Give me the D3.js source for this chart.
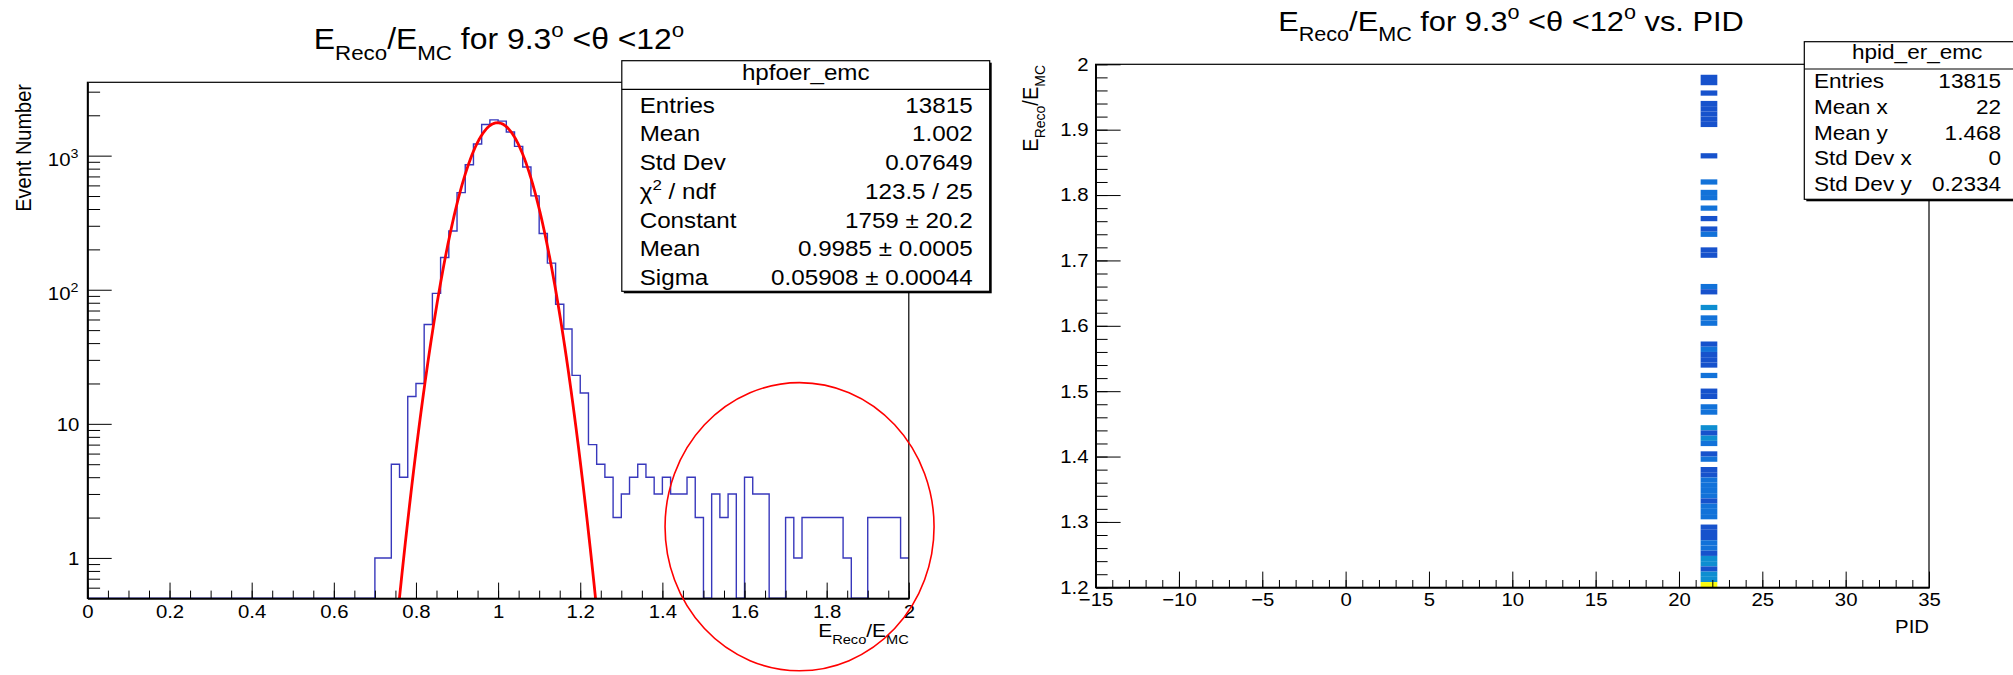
<!DOCTYPE html>
<html><head><meta charset="utf-8">
<script src="https://cdn.jsdelivr.net/npm/d3@7/dist/d3.min.js"></script>
<style>
html,body{margin:0;padding:0;background:#fff;}
svg{display:block;}
text{white-space:pre;}
</style></head><body>
<svg id="chart" width="2013" height="675"></svg>
<script>
// ================= DATA =================
// Left: 1D histogram E_Reco/E_MC (bin width 0.02), lower bin edges and counts
const ratioBinLow = [0.70,0.72,0.74,0.76,0.78,0.80,0.82,0.84,0.86,0.88,0.90,0.92,0.94,0.96,0.98,
  1.00,1.02,1.04,1.06,1.08,1.10,1.12,1.14,1.16,1.18,1.20,1.22,1.24,1.26,1.28,1.30,1.32,1.34,1.36,1.38,
  1.40,1.42,1.44,1.46,1.48,1.50,1.52,1.54,1.56,1.58,1.60,1.62,1.64,1.66,1.68,1.70,1.72,1.74,1.76,1.78,
  1.80,1.82,1.84,1.86,1.88,1.90,1.92,1.94,1.96,1.98];
const ratioCounts = [1,1,5,4,16,20,55,94,174,274,530,855,1222,1706,1850,
  1808,1503,1173,822,501,263,158,78,51,23,17,7,5,4,2,3,4,5,4,3,
  4,3,3,4,2,0,3,2,3,0,4,3,3,0,0,2,1,2,2,2,
  2,2,1,0,0,2,2,2,2,1];
const ratioBinWidth = 0.02;
const ratioXTicks = [0,0.2,0.4,0.6,0.8,1,1.2,1.4,1.6,1.8,2];
const logYTicks = [1,10,100,1000];
const logYLabels = [["1"],["10"],["10",["2",2]],["10",["3",2]]];
// Gaussian fit parameters (from stats box)
const fitConstant = 1759, fitMean = 0.9985, fitSigma = 0.05908;
const leftStatsTitle = "hpfoer_emc";
const leftStatsLabels = [["Entries"],["Mean"],["Std Dev"],["χ",["2",2]," / ndf"],["Constant"],["Mean"],["Sigma"]];
const leftStatsValues = ["13815","1.002","0.07649","123.5 / 25","1759 ± 20.2","0.9985 ± 0.0005","0.05908 ± 0.00044"];
// annotation ellipse in data units
const markCenter = [1.734, 1.71], markHalfWidth = 0.3275, markTopValue = 20.3;

// Right: 2D histogram E_Reco/E_MC vs PID
const pidBinEdges = [21.3, 22.3];
const cellHeight = 0.008;
const cellRatioLow = [1.976,1.968,1.952,1.936,1.928,1.920,1.912,1.904,1.856,1.816,1.800,1.792,1.776,1.760,
  1.744,1.736,1.712,1.704,1.656,1.648,1.624,1.608,1.600,1.568,1.560,1.552,1.544,1.536,1.520,1.496,1.488,
  1.472,1.464,1.440,1.432,1.424,1.416,1.400,1.392,1.376,1.368,1.360,1.352,1.344,1.336,1.328,1.320,1.312,
  1.304,1.288,1.280,1.272,1.264,1.256,1.248,1.240,1.232,1.224,1.216,1.208,1.200];
const cellCounts = [1,1,1,1,1,1,1,1,1,2,2,2,2,1,
  1,2,1,1,2,1,3,2,2,1,2,1,1,1,2,1,1,
  2,2,3,1,3,2,1,2,1,1,2,2,2,2,1,2,2,
  2,1,1,1,2,2,1,3,3,1,3,3,10];
const pidXTicks = [-15,-10,-5,0,5,10,15,20,25,30,35];
const pidYTicks = [1.2,1.3,1.4,1.5,1.6,1.7,1.8,1.9,2];
const rightStatsTitle = "hpid_er_emc";
const rightStatsLabels = ["Entries","Mean x","Mean y","Std Dev x","Std Dev y"];
const rightStatsValues = ["13815","22","1.468","0","0.2334"];
// ROOT kBird palette
const birdStops = [0,0.125,0.25,0.375,0.5,0.625,0.75,0.875,1];
const birdColors = ["rgb(53,42,135)","rgb(15,92,221)","rgb(20,128,214)","rgb(6,164,202)","rgb(46,183,164)",
  "rgb(135,191,119)","rgb(209,187,89)","rgb(254,200,50)","rgb(249,251,14)"];

// ================= LAYOUT =================
const FONT = "'Liberation Sans', Arial, Helvetica, sans-serif";
const SX = 1.1;
const L = {x0:87.4, x1:908.8, y0:82.3, y1:598.3};
const R = {x0:1095.6, x1:1929, y0:64.3, y1:587.3};
const svg = d3.select("#chart");

function latex(parent, x, y, parts, size, anchor, rotate) {
  const t = parent.append("text")
    .attr("transform", `translate(${x},${y}) scale(${SX},1)` + (rotate ? " rotate(-90)" : ""))
    .attr("font-family", FONT).attr("font-size", size)
    .attr("text-anchor", anchor || "start").attr("fill", "#000");
  let cur = 0;
  parts.forEach(p => {
    const s = typeof p === "string" ? p : p[0];
    const m = typeof p === "string" ? 0 : p[1];
    const target = m === 1 ? 0.36 * size : m === 2 ? -0.42 * size : 0;
    t.append("tspan").attr("dy", (target - cur).toFixed(2)).attr("font-size", m ? size * 0.7 : size).text(s);
    cur = target;
  });
  return t;
}
function styleAxis(g, w) {
  g.select(".domain").attr("stroke", "#000").attr("stroke-width", w || 1.5);
  g.selectAll(".tick line").attr("stroke", "#000").attr("stroke-width", 1);
}
function styleLabels(g, size) {
  g.attr("font-family", null).attr("font-size", null);
  g.selectAll(".tick text").attr("font-family", FONT).attr("font-size", size).attr("fill", "#000")
    .attr("transform", `scale(${SX},1)`);
}

// ================= LEFT PANEL =================
const xL = d3.scaleLinear().domain([0, 2]).range([L.x0, L.x1]);
const yMinL = 0.5;
const yL = d3.scaleLog().domain([yMinL, 3524]).range([L.y1, L.y0]);
const gl = svg.append("g");
gl.append("clipPath").attr("id", "clipL").append("rect")
  .attr("x", L.x0).attr("y", L.y0).attr("width", L.x1 - L.x0).attr("height", L.y1 - L.y0);

// histogram outline
const histPts = [[0, yMinL]].concat(ratioBinLow.map((b, i) => [b, Math.max(ratioCounts[i], yMinL)]));
histPts.push([ratioBinLow[ratioBinLow.length - 1] + ratioBinWidth, Math.max(ratioCounts[ratioCounts.length - 1], yMinL)]);
gl.append("path").datum(histPts)
  .attr("d", d3.line().x(d => xL(d[0])).y(d => yL(d[1])).curve(d3.curveStepAfter))
  .attr("fill", "none").attr("stroke", "#3838bc").attr("stroke-width", 1.4);

// gaussian fit curve
const fitX = d3.range(0.70, 1.30, 0.002);
const fitPts = fitX.map(x => [x, fitConstant * Math.exp(-0.5 * Math.pow((x - fitMean) / fitSigma, 2))]);
gl.append("path").datum(fitPts).attr("clip-path", "url(#clipL)")
  .attr("d", d3.line().x(d => xL(d[0])).y(d => yL(Math.max(d[1], 1e-3))))
  .attr("fill", "none").attr("stroke", "#ff0000").attr("stroke-width", 2.8);

// frame
gl.append("rect").attr("x", L.x0).attr("y", L.y0).attr("width", L.x1 - L.x0).attr("height", L.y1 - L.y0)
  .attr("fill", "none").attr("stroke", "#000").attr("stroke-width", 1.2);

// x axis
const xMinorL = d3.range(0, 2.0001, 0.05);
const gxm = gl.append("g").attr("transform", `translate(0,${L.y1})`)
  .call(d3.axisBottom(xL).tickValues(xMinorL).tickSize(-7.7).tickSizeOuter(0).tickFormat(""));
styleAxis(gxm);
const gx = gl.append("g").attr("transform", `translate(0,${L.y1})`)
  .call(d3.axisBottom(xL).tickValues(ratioXTicks).tickSize(-15.7).tickSizeOuter(0).tickPadding(7).tickFormat(d3.format("~g")));
styleAxis(gx); styleLabels(gx, 18.5);

// y axis (log)
const yMinorL = [];
[0.1, 1, 10, 100, 1000].forEach(d => { for (let m = 2; m <= 9; m++) { const v = d * m; if (v > yMinL && v < 3524) yMinorL.push(v); } });
const gym = gl.append("g").attr("transform", `translate(${L.x0},0)`)
  .call(d3.axisLeft(yL).tickValues(yMinorL).tickSize(-12.7).tickSizeOuter(0).tickFormat(""));
styleAxis(gym);
const gy = gl.append("g").attr("transform", `translate(${L.x0},0)`)
  .call(d3.axisLeft(yL).tickValues(logYTicks).tickSize(-24.3).tickSizeOuter(0).tickFormat(""));
styleAxis(gy);
gy.selectAll(".tick").each(function(d, i) {
  const lab = logYLabels[i];
  latex(d3.select(this), lab.length > 1 ? -9 : -8, lab.length > 1 ? 10 : 7, lab, 18.5, "end");
});

// titles
latex(svg, 499, 49.3, ["E", ["Reco", 1], "/E", ["MC", 1], " for 9.3", ["o", 2], " <θ <12", ["o", 2]], 29, "middle");
latex(svg, 30.5, 84, ["Event Number"], 20, "end", true);
latex(svg, L.x1, 636.7, ["E", ["Reco", 1], "/E", ["MC", 1]], 19, "end");

// annotation ellipse
const mcx = xL(markCenter[0]), mcy = yL(markCenter[1]);
svg.append("ellipse").attr("cx", mcx).attr("cy", mcy)
  .attr("rx", xL(markCenter[0] + markHalfWidth) - mcx).attr("ry", mcy - yL(markTopValue))
  .attr("fill", "none").attr("stroke", "#f00").attr("stroke-width", 1.6);

// stats boxes
function statsBox(bx0, by0, bx1, by1, sepY, title, titleY, size, labels, values, rowY, lx, rx) {
  const g = svg.append("g");
  g.append("rect").attr("x", bx0 + 2).attr("y", by0 + 2).attr("width", bx1 - bx0).attr("height", by1 - by0).attr("fill", "#000");
  g.append("rect").attr("x", bx0).attr("y", by0).attr("width", bx1 - bx0).attr("height", by1 - by0)
    .attr("fill", "#fff").attr("stroke", "#000").attr("stroke-width", 1.2);
  g.append("line").attr("x1", bx0).attr("x2", bx1).attr("y1", sepY).attr("y2", sepY).attr("stroke", "#000").attr("stroke-width", 1.2);
  latex(g, (bx0 + bx1) / 2, titleY, [title], size, "middle");
  labels.forEach((lab, i) => {
    latex(g, lx, rowY[i], Array.isArray(lab) ? lab : [lab], size, "start");
    latex(g, rx, rowY[i], [values[i]], size, "end");
  });
}
statsBox(621.8, 60.7, 989.7, 291.3, 89.3, leftStatsTitle, 80, 22, leftStatsLabels, leftStatsValues,
  [112.7, 141.4, 170.1, 198.8, 227.5, 256.2, 284.9], 639.7, 972.6);

// ================= RIGHT PANEL =================
const xR = d3.scaleLinear().domain([-15, 35]).range([R.x0, R.x1]);
const yR = d3.scaleLinear().domain([1.2, 2]).range([R.y1, R.y0]);
const gr = svg.append("g");
const zMax = d3.max(cellCounts);
const bird = d3.scaleLinear().domain(birdStops).range(birdColors).interpolate(d3.interpolateRgb);
gr.selectAll("rect.cell").data(cellRatioLow).join("rect").attr("class", "cell")
  .attr("x", xR(pidBinEdges[0])).attr("width", xR(pidBinEdges[1]) - xR(pidBinEdges[0]))
  .attr("y", d => yR(d + cellHeight)).attr("height", d => yR(d) - yR(d + cellHeight))
  .attr("fill", (d, i) => bird(cellCounts[i] / zMax));

gr.append("rect").attr("x", R.x0).attr("y", R.y0).attr("width", R.x1 - R.x0).attr("height", R.y1 - R.y0)
  .attr("fill", "none").attr("stroke", "#000").attr("stroke-width", 1.2);

const xMinorR = d3.range(-15, 35.001, 1);
const grxm = gr.append("g").attr("transform", `translate(0,${R.y1})`)
  .call(d3.axisBottom(xR).tickValues(xMinorR).tickSize(-7.3).tickSizeOuter(0).tickFormat(""));
styleAxis(grxm);
const grx = gr.append("g").attr("transform", `translate(0,${R.y1})`)
  .call(d3.axisBottom(xR).tickValues(pidXTicks).tickSize(-15.7).tickSizeOuter(0).tickPadding(6).tickFormat(d3.format("~g")));
styleAxis(grx); styleLabels(grx, 18.5);

const yMinorR = d3.range(1.2, 2.0001, 0.02);
const grym = gr.append("g").attr("transform", `translate(${R.x0},0)`)
  .call(d3.axisLeft(yR).tickValues(yMinorR).tickSize(-12).tickSizeOuter(0).tickFormat(""));
styleAxis(grym);
const gry = gr.append("g").attr("transform", `translate(${R.x0},0)`)
  .call(d3.axisLeft(yR).tickValues(pidYTicks).tickSize(-25).tickSizeOuter(0).tickPadding(6.5).tickFormat(d3.format("~g")));
styleAxis(gry); styleLabels(gry, 18.5);
gry.selectAll(".tick text").attr("text-anchor", "end");

latex(svg, 1511, 30.7, ["E", ["Reco", 1], "/E", ["MC", 1], " for 9.3", ["o", 2], " <θ <12", ["o", 2], " vs. PID"], 28, "middle");
latex(svg, 1037.5, 65, ["E", ["Reco", 1], "/E", ["MC", 1]], 20, "end", true);
latex(svg, R.x1, 633.3, ["PID"], 18.5, "end");

statsBox(1804.3, 41.7, 2030, 199.3, 69, rightStatsTitle, 59.3, 20.5, rightStatsLabels, rightStatsValues,
  [88.3, 113.9, 139.5, 165.1, 190.7], 1814, 2001);
</script>
</body></html>
